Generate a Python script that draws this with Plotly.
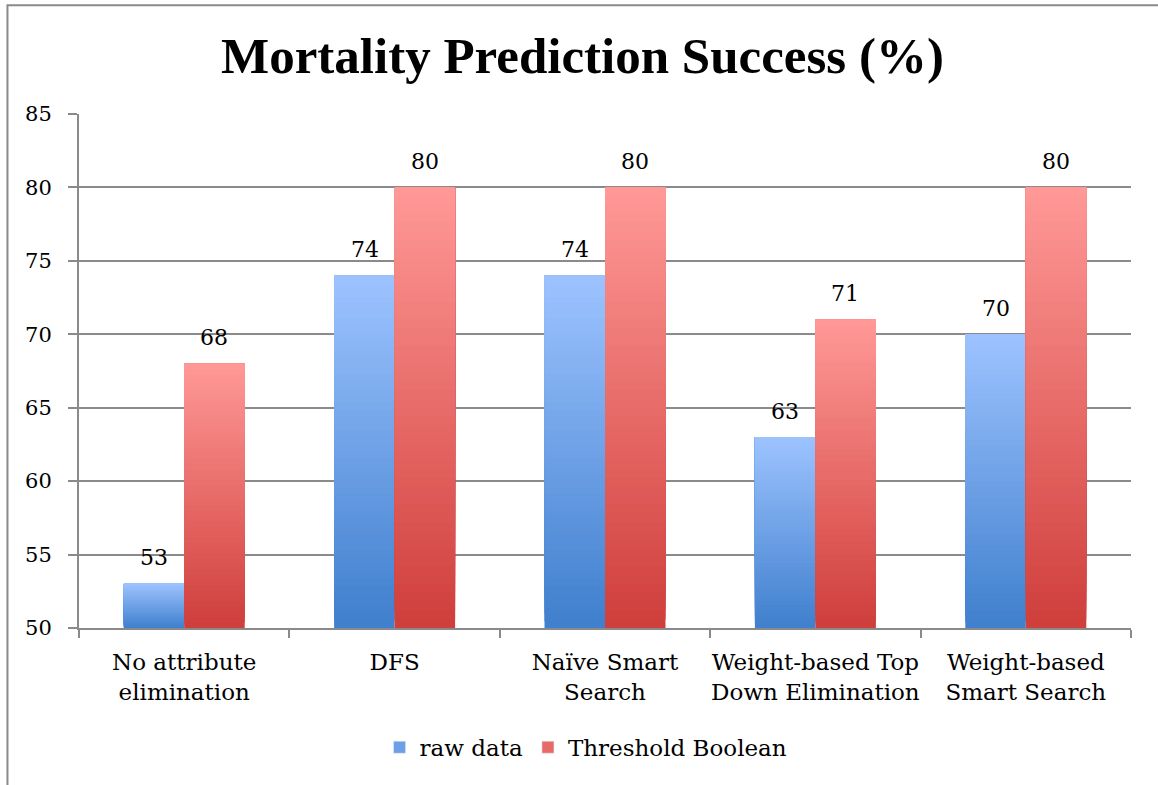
import plotly.graph_objects as go

categories = ["No attribute<br>elimination", "DFS", "Naïve Smart<br>Search",
              "Weight-based Top<br>Down Elimination", "Weight-based<br>Smart Search"]
raw_data = [53, 74, 74, 63, 70]
threshold_boolean = [68, 80, 80, 71, 80]
series_names = ["raw data", "Threshold Boolean"]
y_ticks = [50, 55, 60, 65, 70, 75, 80, 85]

BASE = 50
N = 50
FONT = "DejaVu Serif"
TITLE_FONT = "Liberation Serif"

gradients = {
    "raw data": ((0x3F, 0x7F, 0xCD), (0x9D, 0xC3, 0xFF)),
    "Threshold Boolean": ((0xCF, 0x3E, 0x3B), (0xFF, 0x99, 0x97)),
}
legend_colors = {"raw data": "#6C9FE6", "Threshold Boolean": "#E86A67"}
label_shift = {"raw data": -30, "Threshold Boolean": 30}


def lerp(c0, c1, t):
    return "rgb(%d,%d,%d)" % tuple(round(a + (b - a) * t) for a, b in zip(c0, c1))


fig = go.Figure()
annotations = []
for s, vals in zip(series_names, [raw_data, threshold_boolean]):
    dark, light = gradients[s]
    seg = [(v - BASE) / N for v in vals]
    for k in range(N):
        t = (k + 0.5) / N
        fig.add_trace(go.Bar(
            x=categories, y=[(N - k) * h for h in seg], base=[BASE + k * h for h in seg],
            offsetgroup=s, marker=dict(color=lerp(dark, light, t), line=dict(width=0)),
            showlegend=False, hoverinfo="skip",
        ))
    fig.add_trace(go.Bar(x=[categories[0]], y=[None], name=s, offsetgroup=s,
                         marker=dict(color=legend_colors[s]), showlegend=True))
    for c, v in zip(categories, vals):
        annotations.append(dict(x=c, y=v, xref="x", yref="y", text=str(v), showarrow=False,
                                xshift=label_shift[s], yshift=26, yanchor="middle",
                                font=dict(family=FONT, size=22, color="black")))

fig.update_layout(
    width=1158, height=785,
    margin=dict(l=79, r=27, t=114, b=157, autoexpand=False),
    paper_bgcolor="white", plot_bgcolor="white",
    barmode="group", bargap=0.425, bargroupgap=0,
    title=dict(text="<b>Mortality Prediction Success (%)</b>", x=0.503, xanchor="center",
               y=0.93, yanchor="middle",
               font=dict(family=TITLE_FONT, size=51, color="black")),
    font=dict(family=FONT, size=23, color="black"),
    legend=dict(orientation="h", x=0.482, xanchor="center", y=-0.232, yanchor="middle",
                font=dict(family=FONT, size=23), itemwidth=30, traceorder="normal"),
    annotations=annotations,
    shapes=[dict(type="rect", xref="paper", yref="paper", x0=-0.068, x1=1.2, y0=-0.6, y1=1.2118,
                 line=dict(color="#8a8a8a", width=2), fillcolor="rgba(0,0,0,0)", layer="below")],
)
fig.update_xaxes(type="category", showline=True, linecolor="#8a8a8a", linewidth=2,
                 ticks="outside", tickson="boundaries", ticklen=8, tickcolor="#8a8a8a",
                 tickwidth=2, showgrid=False, tickangle=0, automargin=False,
                 ticklabelstandoff=12, tickfont=dict(family=FONT, size=23))
fig.update_yaxes(range=[BASE, 85], tickvals=y_ticks, showline=True, linecolor="#8a8a8a",
                 linewidth=2, ticks="outside", ticklen=9, tickcolor="#8a8a8a", tickwidth=2,
                 showgrid=True, gridcolor="#8a8a8a", gridwidth=1.5, zeroline=False,
                 automargin=False, ticklabelstandoff=12, tickfont=dict(family=FONT, size=21))

fig.write_html("out.html", config={"displayModeBar": False},
               post_script="document.body.style.margin='0';")
